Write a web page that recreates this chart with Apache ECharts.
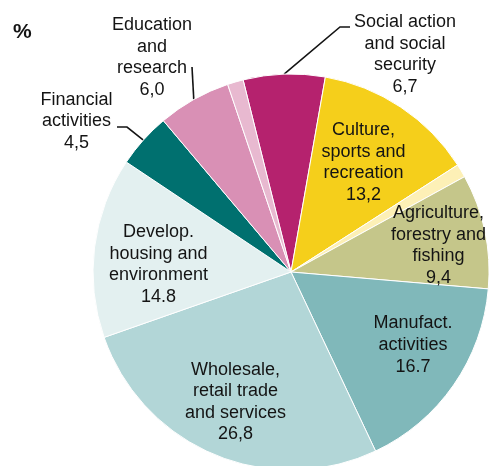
<!DOCTYPE html>
<html>
<head>
<meta charset="utf-8">
<title>Breakdown by activity (%)</title>
<script src="https://cdn.jsdelivr.net/npm/echarts@6/dist/echarts.min.js"></script>
<style>
  html, body { margin: 0; padding: 0; background: #ffffff; }
  #chart { width: 489px; height: 466px; }
</style>
</head>
<body>
<div id="chart"></div>
<script>
// Slices, clockwise from the top
const categories = [
  'Social action and social security',
  'Culture, sports and recreation',
  'Other activities',
  'Agriculture, forestry and fishing',
  'Manufact. activities',
  'Wholesale, retail trade and services',
  'Develop. housing and environment',
  'Financial activities',
  'Education and research',
  'Other services'
];
const values = [6.7, 13.2, 1.1, 9.4, 16.7, 26.8, 14.8, 4.5, 6.0, 1.3];
const labelTexts = [
  'Social action\nand social\nsecurity\n6,7',
  'Culture,\nsports and\nrecreation\n13,2',
  '',
  'Agriculture,\nforestry and\nfishing\n9,4',
  'Manufact.\nactivities\n16.7',
  'Wholesale,\nretail trade\nand services\n26,8',
  'Develop.\nhousing and\nenvironment\n14.8',
  'Financial\nactivities\n4,5',
  'Education\nand\nresearch\n6,0',
  ''
];

// Styling
const colors = ['#b5226e', '#f5cf1b', '#fdf0b6', '#c5c68a', '#80b8ba',
                '#b2d6d7', '#e3f0f0', '#00706f', '#d990b5', '#e8b9d0'];
const outsideLabels = [0, 7, 8];
// label block centres and leader-line bends
const labelAt = {
  0: { x: 405, y: 54.5, line: [[340, 27], [350, 27]] },
  1: { x: 363.5, y: 162.5 },
  3: { x: 438.5, y: 245.5 },
  4: { x: 413, y: 345 },
  5: { x: 235.5, y: 402 },
  6: { x: 158.5, y: 264.5 },
  7: { x: 76.5, y: 121.5, line: [[127, 127], [117, 127]] },
  8: { x: 152, y: 57.5, line: [[192, 67]] }
};

const textStyle = {
  fontFamily: 'Liberation Sans, Arial, sans-serif',
  fontSize: 18,
  lineHeight: 21.6,
  color: '#141414',
  textBorderWidth: 0
};

const data = categories.map(function (name, i) {
  const outside = outsideLabels.indexOf(i) >= 0;
  return {
    name: name,
    value: values[i],
    itemStyle: { color: colors[i] },
    label: Object.assign({
      show: labelTexts[i] !== '',
      position: outside ? 'outside' : 'inside',
      formatter: labelTexts[i]
    }, textStyle),
    labelLine: { show: outside, length: 20, length2: 10,
                 lineStyle: { color: '#141414', width: 1.6 } }
  };
});

const chart = echarts.init(document.getElementById('chart'), null, { renderer: 'canvas' });
chart.setOption({
  animation: false,
  backgroundColor: '#ffffff',
  title: {
    text: '%',
    left: 8,
    top: 17,
    textStyle: { fontFamily: 'Liberation Sans, Arial, sans-serif', fontSize: 21, fontWeight: 'bold', color: '#141414' }
  },
  series: [{
    type: 'pie',
    center: [291, 272],
    radius: 198,
    startAngle: 104,
    clockwise: true,
    avoidLabelOverlap: false,
    minShowLabelAngle: 0,
    itemStyle: { borderColor: '#ffffff', borderWidth: 1 },
    emphasis: { disabled: true },
    data: data,
    labelLayout: function (params) {
      const spot = labelAt[params.dataIndex];
      if (!spot) return {};
      const out = { x: spot.x, y: spot.y, align: 'center', verticalAlign: 'middle' };
      if (spot.line && params.labelLinePoints) {
        out.labelLinePoints = [params.labelLinePoints[0]].concat(spot.line);
      }
      return out;
    }
  }]
});
</script>
</body>
</html>
